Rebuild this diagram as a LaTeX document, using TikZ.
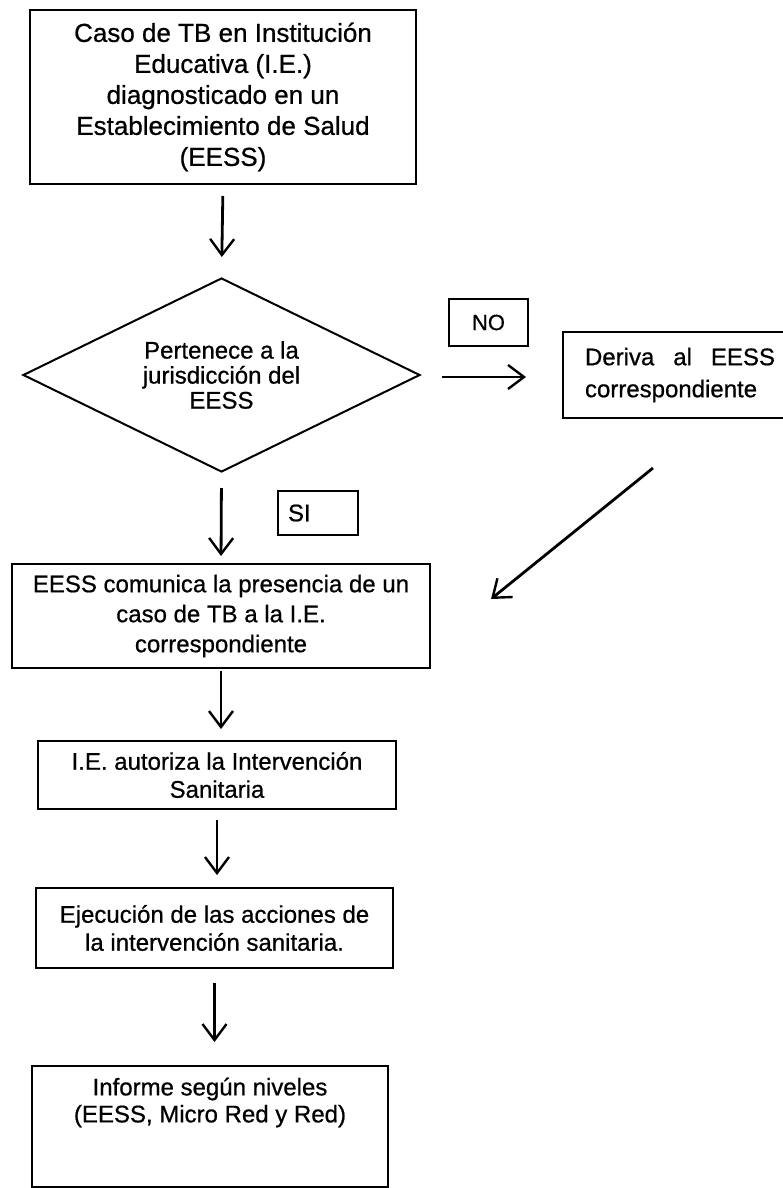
\documentclass[tikz,border=0pt]{standalone}
\usepackage{fontspec}
\setmainfont[FakeBold=0.7]{Liberation Sans}
\usetikzlibrary{arrows.meta,shapes.geometric}
\begin{document}
\begin{tikzpicture}[x=1pt,y=-1pt,
  box/.style={draw, line width=2pt, rectangle, inner sep=0pt, align=center},
  arr/.style={line width=2.8pt, -{Straight Barb[length=16pt,width=24pt,line width=2.4pt]}},
  fnt/.style={font=\fontsize{24}{#1}\selectfont}
]
\useasboundingbox (0,0) rectangle (782,1188);
\fill[white] (0,0) rectangle (782,1188);

\node[box, minimum width=386pt, minimum height=174pt, font=\fontsize{26}{31}\selectfont] (b1) at (223,97)
  {Caso de TB en Institución\\Educativa (I.E.)\\diagnosticado en un\\Establecimiento de Salud\\(EESS)};

\node[draw, line width=2pt, diamond, aspect=2.05, minimum width=397pt, minimum height=194pt,
  inner sep=0pt, align=center, fnt=25] (dia) at (221.5,375)
  {Pertenece a la\\jurisdicción del\\EESS};

\node[box, minimum width=79pt, minimum height=47pt, font=\fontsize{22}{24}\selectfont] (no) at (488.5,322.5) {NO};

\node[box, text width=190pt, inner xsep=22pt, minimum height=86pt, align=left, fnt=32] (der) at (680,375)
  {\makebox[190pt][l]{Deriva\hfill al\hfill EESS}\\correspondiente};

\node[box, text width=60pt, inner xsep=10pt, minimum height=44pt, align=left, fnt=28] (si) at (318,513) {SI};

\node[box, minimum width=418pt, minimum height=104pt, fnt=30] (b3) at (221,616)
  {EESS comunica la presencia de un\\caso de TB a la I.E.\\correspondiente};

\node[box, minimum width=358pt, minimum height=68pt, fnt=28] (b4) at (217,775)
  {I.E. autoriza la Intervención\\Sanitaria};

\node[box, minimum width=357pt, minimum height=80pt, fnt=28] (b5) at (214.5,928)
  {Ejecución de las acciones de\\la intervención sanitaria.};

\node[box, minimum width=356pt, minimum height=121pt, anchor=north, fnt=27] (b6) at (210,1065)
  {Informe según niveles\\(EESS, Micro Red y Red)\\[26pt]\mbox{}};

\draw[arr, shorten <=11pt, shorten >=20pt] (b1.south) -- (dia.north);
\draw[arr, shorten <=21pt, shorten >=36pt] ([yshift=-2pt]dia.east) -- ([yshift=-2pt]der.west);
\draw[arr, shorten <=15pt, shorten >=7pt] (dia.south) -- (b3.north);
\draw[arr] ([xshift=-27pt,yshift=-49pt]der.south) -- ([xshift=60pt,yshift=17pt]b3.east);
\draw[arr, shorten <=2pt, shorten >=11pt] (b3.south) -- (b3.south |- b4.north);
\draw[arr, shorten <=10pt, shorten >=12pt] (b4.south) -- (b4.south |- b5.north);
\draw[arr, shorten <=14pt, shorten >=23pt] (b5.south) -- (b5.south |- b6.north);
\end{tikzpicture}
\end{document}
